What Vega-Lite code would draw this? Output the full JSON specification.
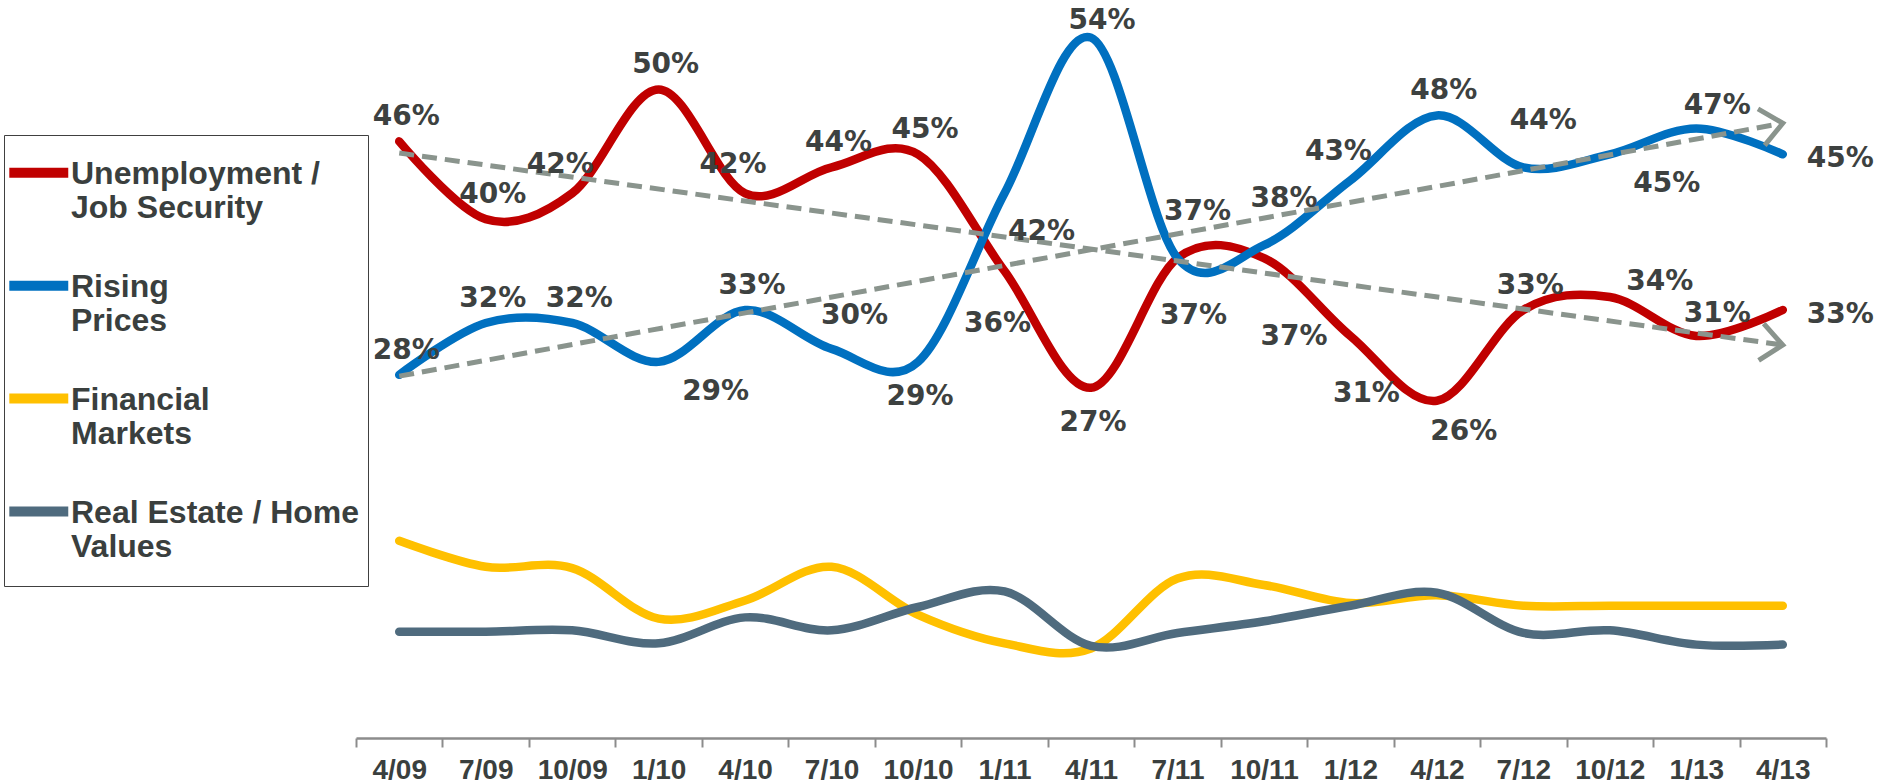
{
  "$schema": "https://vega.github.io/schema/vega-lite/v6.json",
  "autosize": {"type": "none"},
  "padding": {"left": 356, "top": 0, "right": 55, "bottom": 45},
  "width": 1470,
  "height": 738,
  "background": "white",
  "config": {"view": {"stroke": null}},
  "data": {"values": [
    {"s": "Unemployment / Job Security", "c": "U", "q": "4/09", "v": 46, "lab": "46%"},
    {"s": "Unemployment / Job Security", "c": "U", "q": "7/09", "v": 40, "lab": "40%"},
    {"s": "Unemployment / Job Security", "c": "U", "q": "10/09", "v": 42, "lab": "42%"},
    {"s": "Unemployment / Job Security", "c": "U", "q": "1/10", "v": 50, "lab": "50%"},
    {"s": "Unemployment / Job Security", "c": "U", "q": "4/10", "v": 42, "lab": "42%"},
    {"s": "Unemployment / Job Security", "c": "U", "q": "7/10", "v": 44, "lab": "44%"},
    {"s": "Unemployment / Job Security", "c": "U", "q": "10/10", "v": 45, "lab": "45%"},
    {"s": "Unemployment / Job Security", "c": "U", "q": "1/11", "v": 36, "lab": "36%"},
    {"s": "Unemployment / Job Security", "c": "U", "q": "4/11", "v": 27, "lab": "27%"},
    {"s": "Unemployment / Job Security", "c": "U", "q": "7/11", "v": 37, "lab": "37%"},
    {"s": "Unemployment / Job Security", "c": "U", "q": "10/11", "v": 37, "lab": "37%"},
    {"s": "Unemployment / Job Security", "c": "U", "q": "1/12", "v": 31, "lab": "31%"},
    {"s": "Unemployment / Job Security", "c": "U", "q": "4/12", "v": 26, "lab": "26%"},
    {"s": "Unemployment / Job Security", "c": "U", "q": "7/12", "v": 33, "lab": "33%"},
    {"s": "Unemployment / Job Security", "c": "U", "q": "10/12", "v": 34, "lab": "34%"},
    {"s": "Unemployment / Job Security", "c": "U", "q": "1/13", "v": 31, "lab": "31%"},
    {"s": "Unemployment / Job Security", "c": "U", "q": "4/13", "v": 33, "lab": "33%"},
    {"s": "Rising Prices", "c": "R", "q": "4/09", "v": 28, "lab": "28%"},
    {"s": "Rising Prices", "c": "R", "q": "7/09", "v": 32, "lab": "32%"},
    {"s": "Rising Prices", "c": "R", "q": "10/09", "v": 32, "lab": "32%"},
    {"s": "Rising Prices", "c": "R", "q": "1/10", "v": 29, "lab": "29%"},
    {"s": "Rising Prices", "c": "R", "q": "4/10", "v": 33, "lab": "33%"},
    {"s": "Rising Prices", "c": "R", "q": "7/10", "v": 30, "lab": "30%"},
    {"s": "Rising Prices", "c": "R", "q": "10/10", "v": 29, "lab": "29%"},
    {"s": "Rising Prices", "c": "R", "q": "1/11", "v": 42, "lab": "42%"},
    {"s": "Rising Prices", "c": "R", "q": "4/11", "v": 54, "lab": "54%"},
    {"s": "Rising Prices", "c": "R", "q": "7/11", "v": 37, "lab": "37%"},
    {"s": "Rising Prices", "c": "R", "q": "10/11", "v": 38, "lab": "38%"},
    {"s": "Rising Prices", "c": "R", "q": "1/12", "v": 43, "lab": "43%"},
    {"s": "Rising Prices", "c": "R", "q": "4/12", "v": 48, "lab": "48%"},
    {"s": "Rising Prices", "c": "R", "q": "7/12", "v": 44, "lab": "44%"},
    {"s": "Rising Prices", "c": "R", "q": "10/12", "v": 45, "lab": "45%"},
    {"s": "Rising Prices", "c": "R", "q": "1/13", "v": 47, "lab": "47%"},
    {"s": "Rising Prices", "c": "R", "q": "4/13", "v": 45, "lab": "45%"},
    {"s": "Financial Markets", "c": "F", "q": "4/09", "v": 15.2},
    {"s": "Financial Markets", "c": "F", "q": "7/09", "v": 13.2},
    {"s": "Financial Markets", "c": "F", "q": "10/09", "v": 13.1},
    {"s": "Financial Markets", "c": "F", "q": "1/10", "v": 9.2},
    {"s": "Financial Markets", "c": "F", "q": "4/10", "v": 10.6},
    {"s": "Financial Markets", "c": "F", "q": "7/10", "v": 13.2},
    {"s": "Financial Markets", "c": "F", "q": "10/10", "v": 9.5},
    {"s": "Financial Markets", "c": "F", "q": "1/11", "v": 7.3},
    {"s": "Financial Markets", "c": "F", "q": "4/11", "v": 6.9},
    {"s": "Financial Markets", "c": "F", "q": "7/11", "v": 12.3},
    {"s": "Financial Markets", "c": "F", "q": "10/11", "v": 11.8},
    {"s": "Financial Markets", "c": "F", "q": "1/12", "v": 10.4},
    {"s": "Financial Markets", "c": "F", "q": "4/12", "v": 11},
    {"s": "Financial Markets", "c": "F", "q": "7/12", "v": 10.2},
    {"s": "Financial Markets", "c": "F", "q": "10/12", "v": 10.2},
    {"s": "Financial Markets", "c": "F", "q": "1/13", "v": 10.2},
    {"s": "Financial Markets", "c": "F", "q": "4/13", "v": 10.2},
    {"s": "Real Estate / Home Values", "c": "H", "q": "4/09", "v": 8.2},
    {"s": "Real Estate / Home Values", "c": "H", "q": "7/09", "v": 8.2},
    {"s": "Real Estate / Home Values", "c": "H", "q": "10/09", "v": 8.3},
    {"s": "Real Estate / Home Values", "c": "H", "q": "1/10", "v": 7.3},
    {"s": "Real Estate / Home Values", "c": "H", "q": "4/10", "v": 9.3},
    {"s": "Real Estate / Home Values", "c": "H", "q": "7/10", "v": 8.3},
    {"s": "Real Estate / Home Values", "c": "H", "q": "10/10", "v": 10.1},
    {"s": "Real Estate / Home Values", "c": "H", "q": "1/11", "v": 11.3},
    {"s": "Real Estate / Home Values", "c": "H", "q": "4/11", "v": 7.1},
    {"s": "Real Estate / Home Values", "c": "H", "q": "7/11", "v": 8.1},
    {"s": "Real Estate / Home Values", "c": "H", "q": "10/11", "v": 9},
    {"s": "Real Estate / Home Values", "c": "H", "q": "1/12", "v": 10.2},
    {"s": "Real Estate / Home Values", "c": "H", "q": "4/12", "v": 11.2},
    {"s": "Real Estate / Home Values", "c": "H", "q": "7/12", "v": 8.1},
    {"s": "Real Estate / Home Values", "c": "H", "q": "10/12", "v": 8.3},
    {"s": "Real Estate / Home Values", "c": "H", "q": "1/13", "v": 7.2},
    {"s": "Real Estate / Home Values", "c": "H", "q": "4/13", "v": 7.2}
  ]},
  "encoding": {
    "x": {
      "field": "q", "type": "nominal",
      "sort": ["4/09","7/09","10/09","1/10","4/10","7/10","10/10","1/11","4/11","7/11","10/11","1/12","4/12","7/12","10/12","1/13","4/13"],
      "scale": {"type": "band", "paddingInner": 0, "paddingOuter": 0},
      "axis": {
        "title": null, "labelAngle": 0, "grid": false,
        "domainColor": "#8C8C8C", "domainWidth": 2.5,
        "tickColor": "#8C8C8C", "tickWidth": 2, "tickSize": 9, "tickBand": "extent",
        "labelFont": "Liberation Sans", "labelFontWeight": "bold", "labelFontSize": 28,
        "labelColor": "#3A3F3E", "labelPadding": 9
      }
    },
    "y": {"field": "v", "type": "quantitative", "scale": {"domain": [0, 56.9], "nice": false}, "axis": null}
  },
  "layer": [
    {
      "mark": {"type": "line", "interpolate": "cardinal", "strokeWidth": 8.5, "strokeCap": "round", "strokeJoin": "round"},
      "encoding": {
        "color": {
          "field": "s", "type": "nominal",
          "scale": {
            "domain": ["Unemployment / Job Security", "Rising Prices", "Financial Markets", "Real Estate / Home Values"],
            "range": ["#C00000", "#0070C0", "#FFC000", "#4F6B7E"]
          },
          "legend": {
            "orient": "none", "legendX": -352, "legendY": 135,
            "direction": "vertical",
            "title": null,
            "strokeColor": "#404040",
            "padding": 8,
            "symbolType": "M -1.7 1.25 L 3.66 1.25 M 0 5.44 L 0 5.44",
            "symbolSize": 484, "symbolStrokeWidth": 10,
            "labelFont": "Liberation Sans", "labelFontWeight": "bold", "labelFontSize": 32,
            "labelColor": "#3A3F3E", "labelBaseline": "top", "labelOffset": 27,
            "labelLimit": 500, "rowPadding": 16.9,
            "labelExpr": "datum.label == 'Unemployment / Job Security' ? ['Unemployment /', 'Job Security'] : datum.label == 'Rising Prices' ? ['Rising', 'Prices'] : datum.label == 'Financial Markets' ? ['Financial', 'Markets'] : ['Real Estate / Home', 'Values']"
          }
        }
      }
    },
    {
      "data": {"values": [
        {"t": "U", "q": "4/09", "v": 45.1},
        {"t": "U", "q": "4/13", "v": 30.3},
        {"t": "R", "q": "4/09", "v": 27.9},
        {"t": "R", "q": "4/13", "v": 47.4}
      ]},
      "layer": [
        {
          "mark": {"type": "line", "color": "#8A948D", "strokeWidth": 5, "strokeDash": [15, 8]},
          "encoding": {"detail": {"field": "t"}}
        },
        {
          "transform": [{"filter": "datum.t == 'U' && datum.q == '4/13'"}],
          "mark": {"type": "point", "shape": "M -1 -0.85 L 0 0 L -1 0.85", "filled": false, "size": 1900, "strokeWidth": 5, "color": "#8A948D", "opacity": 1, "angle": 7.9}
        },
        {
          "transform": [{"filter": "datum.t == 'R' && datum.q == '4/13'"}],
          "mark": {"type": "point", "shape": "M -1 -0.85 L 0 0 L -1 0.85", "filled": false, "size": 1900, "strokeWidth": 5, "color": "#8A948D", "opacity": 1, "angle": -10.4}
        }
      ]
    },
    {
      "transform": [{"filter": "(datum.c == 'U' && indexof(['4/09','7/09','1/10','7/10','10/10','7/12'], datum.q) >= 0) || (datum.c == 'R' && indexof(['4/09','7/09','10/09','4/10','4/12'], datum.q) >= 0)"}],
      "mark": {"type": "text", "dx": 7, "dy": -24, "font": "DejaVu Sans", "fontWeight": "bold", "fontSize": 28, "color": "#3D4140", "align": "center", "baseline": "middle"},
      "encoding": {"text": {"field": "lab"}}
    },
    {
      "transform": [{"filter": "(datum.c == 'U' && indexof(['10/09','4/10'], datum.q) >= 0) || (datum.c == 'R' && datum.q == '1/12')"}],
      "mark": {"type": "text", "dx": -12, "dy": -28, "font": "DejaVu Sans", "fontWeight": "bold", "fontSize": 28, "color": "#3D4140", "align": "center", "baseline": "middle"},
      "encoding": {"text": {"field": "lab"}}
    },
    {
      "transform": [{"filter": "(datum.c == 'U' || datum.c == 'R') && datum.q == '1/13'"}],
      "mark": {"type": "text", "dx": 21, "dy": -22, "font": "DejaVu Sans", "fontWeight": "bold", "fontSize": 28, "color": "#3D4140", "align": "center", "baseline": "middle"},
      "encoding": {"text": {"field": "lab"}}
    },
    {
      "transform": [{"filter": "datum.c == 'R' && indexof(['7/11','10/11','7/12'], datum.q) >= 0"}],
      "mark": {"type": "text", "dx": 20, "dy": -46, "font": "DejaVu Sans", "fontWeight": "bold", "fontSize": 28, "color": "#3D4140", "align": "center", "baseline": "middle"},
      "encoding": {"text": {"field": "lab"}}
    },
    {
      "transform": [{"filter": "datum.c == 'R' && datum.q == '7/10'"}],
      "mark": {"type": "text", "dx": 23, "dy": -33, "font": "DejaVu Sans", "fontWeight": "bold", "fontSize": 28, "color": "#3D4140", "align": "center", "baseline": "middle"},
      "encoding": {"text": {"field": "lab"}}
    },
    {
      "transform": [{"filter": "(datum.c == 'U' && datum.q == '4/11') || (datum.c == 'R' && datum.q == '10/10')"}],
      "mark": {"type": "text", "dx": 2, "dy": 35, "font": "DejaVu Sans", "fontWeight": "bold", "fontSize": 28, "color": "#3D4140", "align": "center", "baseline": "middle"},
      "encoding": {"text": {"field": "lab"}}
    },
    {
      "transform": [{"filter": "datum.c == 'U' && datum.q == '1/11'"}],
      "mark": {"type": "text", "dx": -7, "dy": 53, "font": "DejaVu Sans", "fontWeight": "bold", "fontSize": 28, "color": "#3D4140", "align": "center", "baseline": "middle"},
      "encoding": {"text": {"field": "lab"}}
    },
    {
      "transform": [{"filter": "datum.c == 'U' && indexof(['7/11','1/12'], datum.q) >= 0"}],
      "mark": {"type": "text", "dx": 16, "dy": 58, "font": "DejaVu Sans", "fontWeight": "bold", "fontSize": 28, "color": "#3D4140", "align": "center", "baseline": "middle"},
      "encoding": {"text": {"field": "lab"}}
    },
    {
      "transform": [{"filter": "datum.c == 'U' && datum.q == '10/11'"}],
      "mark": {"type": "text", "dx": 30, "dy": 79, "font": "DejaVu Sans", "fontWeight": "bold", "fontSize": 28, "color": "#3D4140", "align": "center", "baseline": "middle"},
      "encoding": {"text": {"field": "lab"}}
    },
    {
      "transform": [{"filter": "datum.c == 'R' && datum.q == '1/11'"}],
      "mark": {"type": "text", "dx": 37, "dy": 39, "font": "DejaVu Sans", "fontWeight": "bold", "fontSize": 28, "color": "#3D4140", "align": "center", "baseline": "middle"},
      "encoding": {"text": {"field": "lab"}}
    },
    {
      "transform": [{"filter": "datum.c == 'R' && indexof(['1/10','10/12'], datum.q) >= 0"}],
      "mark": {"type": "text", "dx": 57, "dy": 30, "font": "DejaVu Sans", "fontWeight": "bold", "fontSize": 28, "color": "#3D4140", "align": "center", "baseline": "middle"},
      "encoding": {"text": {"field": "lab"}}
    },
    {
      "transform": [{"filter": "datum.c == 'U' && datum.q == '10/12'"}],
      "mark": {"type": "text", "dx": 50, "dy": -15, "font": "DejaVu Sans", "fontWeight": "bold", "fontSize": 28, "color": "#3D4140", "align": "center", "baseline": "middle"},
      "encoding": {"text": {"field": "lab"}}
    },
    {
      "transform": [{"filter": "(datum.c == 'U' || datum.c == 'R') && datum.q == '4/13'"}],
      "mark": {"type": "text", "dx": 24, "dy": 5, "font": "DejaVu Sans", "fontWeight": "bold", "fontSize": 28, "color": "#3D4140", "align": "left", "baseline": "middle"},
      "encoding": {"text": {"field": "lab"}}
    },
    {
      "transform": [{"filter": "datum.c == 'U' && datum.q == '4/12'"}],
      "mark": {"type": "text", "dx": 27, "dy": 31, "font": "DejaVu Sans", "fontWeight": "bold", "fontSize": 28, "color": "#3D4140", "align": "center", "baseline": "middle"},
      "encoding": {"text": {"field": "lab"}}
    },
    {
      "transform": [{"filter": "datum.c == 'R' && datum.q == '4/11'"}],
      "mark": {"type": "text", "dx": 11, "dy": -17, "font": "DejaVu Sans", "fontWeight": "bold", "fontSize": 28, "color": "#3D4140", "align": "center", "baseline": "middle"},
      "encoding": {"text": {"field": "lab"}}
    }
  ]
}
